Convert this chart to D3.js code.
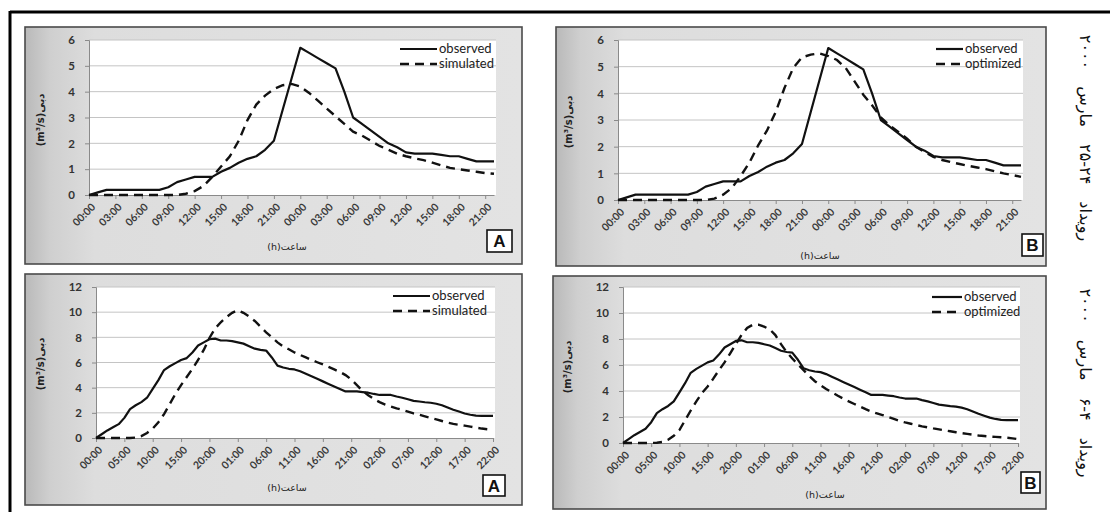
<!DOCTYPE html>
<html>
<head>
<meta charset="utf-8">
<script src="https://cdn.jsdelivr.net/npm/d3@7"></script>
<style>
  body { margin: 0; background: #fff; }
  svg { display: block; font-family: Lato, "Open Sans", sans-serif; }
</style>
</head>
<body>
<div id="chart"></div>
<script>
// event of 24-25 March (hourly, 00:00 .. 22:00 next day)
var topTickLabels = ["00:00", "03:00", "06:00", "09:00", "12:00", "15:00", "18:00", "21:00",
                     "00:00", "03:00", "06:00", "09:00", "12:00", "15:00", "18:00", "21:00"];
var topYTicks = [0, 1, 2, 3, 4, 5, 6];
var topObserved = [0, 0.1, 0.2, 0.2, 0.2, 0.2, 0.2, 0.2, 0.2, 0.3,
                   0.5, 0.6, 0.7, 0.7, 0.7, 0.9, 1.05, 1.25, 1.4, 1.5,
                   1.75, 2.1, 3.3, 4.5, 5.7, 5.5, 5.3, 5.1, 4.9, 4.0,
                   3.0, 2.75, 2.5, 2.25, 2.0, 1.85, 1.65, 1.6, 1.6, 1.6,
                   1.55, 1.5, 1.5, 1.4, 1.3, 1.3, 1.3];
var topSimulated = [0, 0, 0, 0, 0, 0, 0, 0, 0, 0,
                    0, 0.05, 0.15, 0.35, 0.7, 1.1, 1.5, 2.1, 2.9, 3.5,
                    3.85, 4.1, 4.25, 4.3, 4.2, 3.95, 3.65, 3.35, 3.05, 2.75,
                    2.45, 2.3, 2.1, 1.9, 1.75, 1.6, 1.5, 1.42, 1.35, 1.25,
                    1.15, 1.05, 1.0, 0.95, 0.9, 0.85, 0.82];
var topOptimized = [0, 0, 0, 0, 0, 0, 0, 0, 0, 0,
                    0, 0.05, 0.2, 0.45, 0.9, 1.4, 2.05, 2.6, 3.3, 4.2,
                    4.95, 5.35, 5.45, 5.5, 5.4, 5.25, 4.95, 4.45, 3.95, 3.55,
                    3.1, 2.8, 2.55, 2.3, 2.0, 1.8, 1.62, 1.5, 1.42, 1.35,
                    1.28, 1.22, 1.16, 1.08, 1.0, 0.94, 0.87];

// event of 4-6 March (hourly, 00:00 .. 22:00 of the third day)
var bottomTickLabels = ["00:00", "05:00", "10:00", "15:00", "20:00", "01:00", "06:00", "11:00",
                        "16:00", "21:00", "02:00", "07:00", "12:00", "17:00", "22:00"];
var bottomYTicks = [0, 2, 4, 6, 8, 10, 12];
var bottomObserved = [0, 0.3, 0.6, 0.85, 1.1, 1.6, 2.3, 2.6, 2.85, 3.2,
                      3.9, 4.6, 5.4, 5.7, 5.95, 6.2, 6.35, 6.8, 7.35, 7.6,
                      7.85, 7.9, 7.75, 7.75, 7.7, 7.6, 7.5, 7.3, 7.1, 7.0,
                      6.95, 6.4, 5.75, 5.6, 5.5, 5.45, 5.3, 5.1, 4.9, 4.7,
                      4.5, 4.3, 4.1, 3.9, 3.7, 3.7, 3.7, 3.65, 3.6, 3.5,
                      3.42, 3.42, 3.42, 3.3, 3.2, 3.08, 2.95, 2.9, 2.84, 2.8,
                      2.72, 2.6, 2.42, 2.25, 2.1, 1.95, 1.85, 1.78, 1.76, 1.76,
                      1.76];
var bottomSimulated = [0, 0, 0, 0, 0, 0, 0, 0.03, 0.15, 0.4,
                       0.75, 1.25, 1.9, 2.7, 3.5, 4.2, 4.85, 5.5, 6.2, 7.0,
                       7.95, 8.7, 9.2, 9.6, 9.95, 10.15, 9.95, 9.65, 9.3, 8.85,
                       8.4, 8.0, 7.6, 7.28, 7.05, 6.8, 6.6, 6.4, 6.2, 6.02,
                       5.85, 5.65, 5.45, 5.25, 5.0, 4.65, 4.2, 3.75, 3.4, 3.1,
                       2.85, 2.65, 2.5, 2.36, 2.24, 2.1, 1.95, 1.85, 1.72, 1.6,
                       1.48, 1.35, 1.22, 1.12, 1.05, 0.98, 0.9, 0.82, 0.75, 0.7,
                       0.65];
var bottomOptimized = [0, 0, 0, 0, 0, 0, 0.02, 0.08, 0.25, 0.55,
                       1.0, 1.75, 2.5, 3.2, 3.85, 4.35, 4.95, 5.6, 6.2, 6.9,
                       7.6, 8.3, 8.85, 9.1, 9.1, 8.95, 8.75, 8.3, 7.6, 7.0,
                       6.5, 6.05, 5.6, 5.15, 4.75, 4.45, 4.15, 3.9, 3.65, 3.42,
                       3.2, 3.0, 2.8, 2.6, 2.42, 2.28, 2.15, 2.0, 1.85, 1.7,
                       1.58, 1.48, 1.38, 1.28, 1.2, 1.12, 1.05, 0.97, 0.9, 0.83,
                       0.76, 0.7, 0.64, 0.58, 0.54, 0.5, 0.47, 0.44, 0.41, 0.36,
                       0.3];

const w = 1110;
const h = 512;

const svg = d3.select("#chart")
    .append("svg")
    .attr("width", w)
    .attr("height", h);

svg.append("rect").attr("width", w).attr("height", h).attr("fill", "#fff");

// panel background gradient
var defs = svg.append("defs");
var grad = defs.append("linearGradient").attr("id", "panelGrad")
    .attr("x1", 0).attr("y1", 0).attr("x2", 1).attr("y2", 0);
grad.append("stop").attr("offset", 0).attr("stop-color", "#b9b9b9");
grad.append("stop").attr("offset", 0.05).attr("stop-color", "#cfcfcf");
grad.append("stop").attr("offset", 0.14).attr("stop-color", "#dddddd");
grad.append("stop").attr("offset", 1).attr("stop-color", "#e3e3e3");

// outer frame
svg.append("line").attr("x1", 10).attr("x2", w).attr("y1", 12).attr("y2", 12)
    .attr("stroke", "#000").attr("stroke-width", 3);
svg.append("line").attr("x1", 10).attr("x2", 10).attr("y1", 11).attr("y2", h)
    .attr("stroke", "#000").attr("stroke-width", 3);

var panels = [
    { box: [25, 27, 497, 237], plot: [89, 494, 40, 195], labels: topTickLabels, step: 3, yTicks: topYTicks,
      observed: topObserved, model: topSimulated, modelName: "simulated",
      legend: [400, 437, 49], letter: "A", letterBox: [487, 230, 25, 22], xTitle: [287, 250], yTitle: [44, 120] },
    { box: [556, 27, 490, 239], plot: [618, 1021, 40, 200], labels: topTickLabels, step: 3, yTicks: topYTicks,
      observed: topObserved, model: topOptimized, modelName: "optimized",
      legend: [936, 963, 49], letter: "B", letterBox: [1022, 234, 21, 22], xTitle: [820, 259], yTitle: [572, 122] },
    { box: [25, 274, 497, 231], plot: [96, 493, 287, 438], labels: bottomTickLabels, step: 5, yTicks: bottomYTicks,
      observed: bottomObserved, model: bottomSimulated, modelName: "simulated",
      legend: [393, 430, 296], letter: "A", letterBox: [483, 475, 22, 21], xTitle: [287, 491], yTitle: [44, 364] },
    { box: [553, 276, 493, 233], plot: [623, 1018, 287, 443], labels: bottomTickLabels, step: 5, yTicks: bottomYTicks,
      observed: bottomObserved, model: bottomOptimized, modelName: "optimized",
      legend: [932, 962, 297], letter: "B", letterBox: [1021, 472, 19, 21], xTitle: [825, 498], yTitle: [571, 367] }
];

panels.forEach(function (p) {
    var g = svg.append("g");
    var n = p.observed.length;

    g.append("rect")
        .attr("x", p.box[0]).attr("y", p.box[1])
        .attr("width", p.box[2]).attr("height", p.box[3])
        .attr("fill", "url(#panelGrad)")
        .attr("stroke", "#4a4a4a").attr("stroke-width", 1.6);

    var xScale = d3.scaleLinear().domain([0, n - 1]).range([p.plot[0], p.plot[1]]);
    var yScale = d3.scaleLinear().domain([0, d3.max(p.yTicks)]).range([p.plot[3], p.plot[2]]);

    // plot area
    g.append("rect")
        .attr("x", p.plot[0]).attr("y", p.plot[2])
        .attr("width", p.plot[1] - p.plot[0] + 2).attr("height", p.plot[3] - p.plot[2])
        .attr("fill", "#fff");

    // gridlines
    g.selectAll(".grid")
        .data(p.yTicks.filter((d) => d > 0))
        .enter()
        .append("line")
        .attr("x1", p.plot[0]).attr("x2", p.plot[1] + 2)
        .attr("y1", (d) => yScale(d)).attr("y2", (d) => yScale(d))
        .attr("stroke", "#c4c4c4").attr("stroke-width", 1);

    // Y axis
    var yAxis = d3.axisLeft(yScale).tickValues(p.yTicks).tickFormat(d3.format("d"))
        .tickSize(4).tickPadding(10);
    var ya = g.append("g")
        .attr("transform", "translate(" + p.plot[0] + ",0)")
        .call(yAxis);
    ya.select(".domain").attr("stroke", "#8a8a8a");
    ya.selectAll(".tick line").attr("stroke", "#8a8a8a");
    ya.selectAll(".tick text")
        .attr("fill", "#333").style("font-size", "11.5px").style("font-weight", "bold")
        .style("font-family", "Lato, sans-serif");

    // X axis
    var tickVals = p.labels.map((d, i) => i * p.step);
    var xAxis = d3.axisBottom(xScale).tickValues(tickVals)
        .tickFormat((d, i) => p.labels[i]).tickSize(4).tickSizeOuter(0);
    var xa = g.append("g")
        .attr("transform", "translate(0," + p.plot[3] + ")")
        .call(xAxis);
    xa.select(".domain").attr("stroke", "#8a8a8a");
    xa.selectAll(".tick line").attr("stroke", "#8a8a8a");
    xa.selectAll(".tick text")
        .attr("fill", "#3a3a3a").style("font-size", "10.5px").style("font-weight", "bold")
        .style("font-family", "Lato, sans-serif")
        .attr("text-anchor", "end")
        .attr("dy", "0.35em")
        .attr("y", 0)
        .attr("transform", "translate(4,10) rotate(-45)");

    // series
    var line = d3.line().x((d, i) => xScale(i)).y((d) => yScale(d));

    g.append("path").datum(p.model)
        .attr("d", line)
        .attr("fill", "none").attr("stroke", "#111")
        .attr("stroke-width", 2.4).attr("stroke-dasharray", "9,6");

    g.append("path").datum(p.observed)
        .attr("d", line)
        .attr("fill", "none").attr("stroke", "#111")
        .attr("stroke-width", 2.2).attr("stroke-linejoin", "round");

    // legend
    var lg = p.legend;
    g.append("line").attr("x1", lg[0]).attr("x2", lg[1]).attr("y1", lg[2]).attr("y2", lg[2])
        .attr("stroke", "#111").attr("stroke-width", 2.2);
    g.append("line").attr("x1", lg[0]).attr("x2", lg[1]).attr("y1", lg[2] + 15).attr("y2", lg[2] + 15)
        .attr("stroke", "#111").attr("stroke-width", 2.4).attr("stroke-dasharray", "9,6");
    g.append("text").attr("x", lg[1] + 2).attr("y", lg[2]).attr("dy", "0.32em")
        .style("font-size", "13px").attr("fill", "#222").text("observed");
    g.append("text").attr("x", lg[1] + 2).attr("y", lg[2] + 15).attr("dy", "0.32em")
        .style("font-size", "13px").attr("fill", "#222").text(p.modelName);

    // x title
    g.append("text").attr("x", p.xTitle[0]).attr("y", p.xTitle[1])
        .attr("text-anchor", "middle").attr("direction", "rtl")
        .style("font-family", "'DejaVu Sans', sans-serif").style("font-size", "9.5px")
        .attr("fill", "#222").text("ساعت(h)");

    // y title
    g.append("text")
        .attr("transform", "translate(" + p.yTitle[0] + "," + p.yTitle[1] + ") rotate(-90)")
        .attr("text-anchor", "middle").attr("direction", "rtl")
        .style("font-family", "'DejaVu Sans', sans-serif").style("font-size", "10px")
        .style("font-weight", "bold").attr("fill", "#222").text("دبی(m³/s)");

    // letter box
    var lb = p.letterBox;
    g.append("rect").attr("x", lb[0]).attr("y", lb[1]).attr("width", lb[2]).attr("height", lb[3])
        .attr("fill", "#fff").attr("stroke", "#111").attr("stroke-width", 1.6);
    g.append("text").attr("x", lb[0] + lb[2] / 2).attr("y", lb[1] + lb[3] / 2).attr("dy", "0.36em")
        .attr("text-anchor", "middle")
        .style("font-family", "'Liberation Sans', Arial, sans-serif")
        .style("font-size", "17px").style("font-weight", "bold").attr("fill", "#111")
        .text(p.letter);
});

// event captions on the right
var captions = [
    { text: "رویداد ۲۴-۲۵ مارس ۲۰۰۰", x: 1086, y: 138 },
    { text: "رویداد ۴-۶ مارس ۲۰۰۰", x: 1086, y: 383 }
];
svg.selectAll(".caption")
    .data(captions)
    .enter()
    .append("text")
    .attr("transform", (d) => "translate(" + d.x + "," + d.y + ") rotate(90)")
    .attr("text-anchor", "middle").attr("direction", "rtl")
    .attr("dy", "0.35em")
    .style("font-family", "'DejaVu Sans', sans-serif").style("font-size", "16px")
    .style("word-spacing", "12px")
    .attr("fill", "#111")
    .text((d) => d.text);
</script>
</body>
</html>
